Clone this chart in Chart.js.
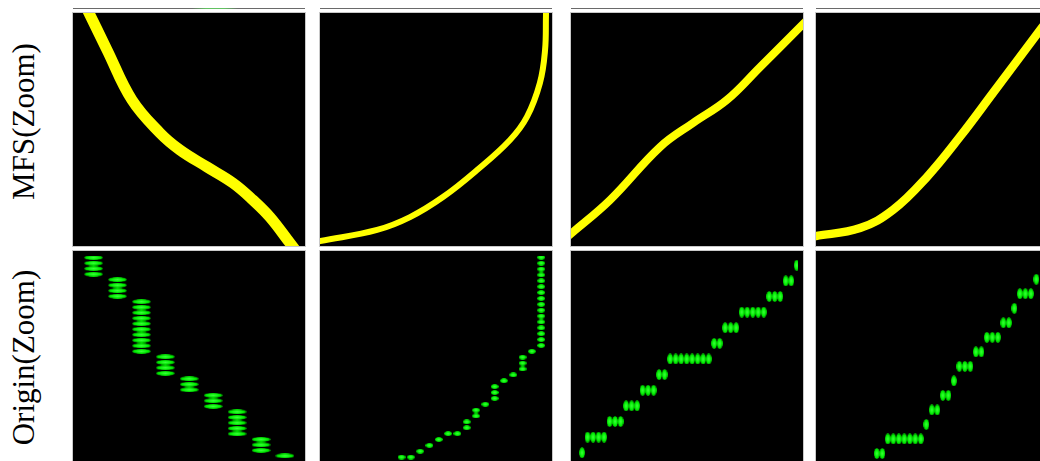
<!DOCTYPE html>
<html>
<head>
<meta charset="utf-8">
<script src="https://cdn.jsdelivr.net/npm/chart.js@4.4.0/dist/chart.umd.min.js"></script>
<style>
  html, body { margin: 0; padding: 0; background: #fff; }
  #wrap { position: relative; width: 1040px; height: 461px; overflow: hidden; }
  .panel { position: absolute; width: 232px; height: 233px; border: 1px solid #c8c8c8; background: #000; }
  .panel canvas { display: block; }
  .topline { position: absolute; top: 8px; width: 232px; height: 1px; background: #6a6a6a; }
  .rowlabel {
    position: absolute; width: 240px; height: 31px; line-height: 31px;
    font-family: "Liberation Serif", "Times New Roman", serif; font-size: 31px;
    text-align: center; white-space: nowrap; color: #000;
    transform: rotate(-90deg);
  }
</style>
</head>
<body>
<div id="wrap">
  <div class="rowlabel" style="left:-97.5px; top:105.5px;">MFS(Zoom)</div>
  <div class="rowlabel" style="left:-97.5px; top:342px;">Origin(Zoom)</div>
</div>
<script>
// =======================
// Data
// =======================

// MFS (top row) - smooth curves, in % of the panel (x right, y up)
const mfs1X = [4.9, 6.9, 14.7, 25.4, 37.5, 46.1, 57.8, 69.0, 77.6, 84.9, 93.5, 97.6];
const mfs1Y = [104, 100, 84.1, 62.7, 48.5, 41.2, 33.9, 27.0, 19.7, 12.4, 1.3, -4];

const mfs2X = [-2, 0, 24.6, 38.8, 53.0, 67.7, 81.9, 89.2, 94.8, 97.0, 97.4, 97.5];
const mfs2Y = [1.6, 2.1, 6.9, 12.4, 21.0, 32.6, 45.5, 55.4, 70.0, 84.0, 99.0, 104];

const mfs3X = [-2, 0, 16.8, 38.4, 52.6, 67.2, 81.5, 99.6, 102];
const mfs3Y = [3.6, 5.3, 19.7, 42.5, 52.8, 62.7, 76.8, 94.8, 97.2];

const mfs4X = [-2, 0, 19.0, 33.2, 47.8, 62.0, 76.3, 96.6, 103];
const mfs4Y = [4.2, 4.3, 7.7, 15.5, 29.6, 46.8, 65.7, 92.7, 101];

// Origin (bottom row) - quantised points, in grid steps (column, row counted from the top)
const org1Col = [0,0,0,0, 1,1,1,1, 2,2,2,2,2,2,2,2,2,2, 3,3,3,3, 4,4,4, 5,5,5, 6,6,6,6,6, 7,7,7, 8];
const org1Row = [0,1,2,3,4,5,6,7,8,9,10,11,12,13,14,15,16,17,18,19,20,21,22,23,24,25,26,27,28,29,30,31,32,33,34,35,36];

const org2Col = [15,15,15,15,15,15,15,15,15,15,15,15,15,15,15,15, 14, 13,13,13, 12, 11, 10,10,10, 9, 8,8, 7,7, 6, 5, 4, 3, 2, 1, 0];
const org2Row = [0,1,2,3,4,5,6,7,8,9,10,11,12,13,14,15, 16, 17,18,19, 20, 21, 22,23,24, 25, 26,27, 28,29, 30, 30, 31, 32, 33, 34, 34];

const org3Col = [0,1,2,3,4,5,6,7,8,9,10,11,12,13,14,15,16,17,18,19,20,21,22,23,24,25,26,27,28,29,30,31,32,33,34,35,36,37,38,39];
const org3Row = [12, 11,11,11,11, 10,10,10, 9,9,9, 8,8,8, 7,7, 6,6,6,6,6,6,6,6, 5,5, 4,4,4, 3,3,3,3,3, 2,2,2, 1,1, 0];

const org4Col = [0,1,2,3,4,5,6,7,8,9,10,11,12,13,14,15,16,17,18,19,20,21,22,23,24,25,26,27,28,29];
const org4Row = [12,12, 11,11,11,11,11,11,11, 10, 9,9, 8,8, 7, 6,6,6, 5,5, 4,4,4, 3,3, 2, 1,1,1, 0];

// =======================
// Layout
// =======================
const COL_LEFT = [73, 320, 571, 816];
const ROW_TOP = [13, 251];
const PW = 232, PH = 233;

const pts = (xs, ys) => xs.map((x, i) => ({ x: x, y: ys[i] }));

// soft green ellipse used as point style
function makeDot(w, h) {
    const c = document.createElement("canvas");
    c.width = w; c.height = h;
    const g = c.getContext("2d");
    g.translate(w / 2, h / 2);
    g.scale(w / 2, h / 2);
    const grad = g.createRadialGradient(0, 0, 0, 0, 0, 1);
    grad.addColorStop(0, "#40ff40");
    grad.addColorStop(0.7, "#00f000");
    grad.addColorStop(0.9, "#00c800");
    grad.addColorStop(1, "rgba(0,140,0,0.7)");
    g.fillStyle = grad;
    g.beginPath();
    g.arc(0, 0, 1, 0, Math.PI * 2);
    g.fill();
    return c;
}

const panels = [
    { col: 0, row: 0, line: pts(mfs1X, mfs1Y), width: 11 },
    { col: 1, row: 0, line: pts(mfs2X, mfs2Y), width: 6 },
    { col: 2, row: 0, line: pts(mfs3X, mfs3Y), width: 8 },
    { col: 3, row: 0, line: pts(mfs4X, mfs4Y), width: 8.5 },
    { col: 0, row: 1, dots: pts(org1Col, org1Row), dot: [19, 5], xr: [-0.65, 8.63], yr: [-0.3, 40.2] },
    { col: 1, row: 1, dots: pts(org2Col, org2Row), dot: [8, 5], xr: [-8.22, 15.62], yr: [-0.22, 37.73] },
    { col: 2, row: 1, dots: pts(org3Col, org3Row), dot: [6, 11], xr: [-1.10, 39.23], yr: [-0.59, 13.68] },
    { col: 3, row: 1, dots: pts(org4Col, org4Row), dot: [6, 11], xr: [-10.14, 30.21], yr: [-1.60, 13.76] }
];

const wrap = document.getElementById("wrap");

// thin rule above the top row
COL_LEFT.forEach(x => {
    const l = document.createElement("div");
    l.className = "topline";
    l.style.left = x + "px";
    wrap.appendChild(l);
});
const tint = document.createElement("div");
tint.className = "topline";
tint.style.left = "192px";
tint.style.width = "46px";
tint.style.background = "linear-gradient(to right, #6a6a6a, #62c262 30%, #62c262 70%, #6a6a6a)";
wrap.appendChild(tint);

panels.forEach(p => {
    const box = document.createElement("div");
    box.className = "panel";
    box.style.left = (COL_LEFT[p.col] - 1) + "px";
    box.style.top = (ROW_TOP[p.row] - 1) + "px";
    const cv = document.createElement("canvas");
    cv.width = PW; cv.height = PH;
    box.appendChild(cv);
    wrap.appendChild(box);

    let ds, xs, ys;
    if (p.line) {
        ds = {
            data: p.line,
            showLine: true,
            borderColor: "#ffff00",
            borderWidth: p.width,
            borderCapStyle: "butt",
            borderJoinStyle: "round",
            pointRadius: 0,
            tension: 0.4,
            clip: 0
        };
        xs = { type: "linear", display: false, min: 0, max: 100 };
        ys = { type: "linear", display: false, min: 0, max: 100 };
    } else {
        ds = {
            data: p.dots,
            showLine: false,
            pointStyle: makeDot(p.dot[0], p.dot[1]),
            pointRadius: 2,
            clip: 0
        };
        xs = { type: "linear", display: false, min: p.xr[0], max: p.xr[1] };
        ys = { type: "linear", display: false, min: p.yr[0], max: p.yr[1], reverse: true };
    }

    new Chart(cv, {
        type: "scatter",
        data: { datasets: [ds] },
        options: {
            responsive: false,
            animation: false,
            events: [],
            layout: { padding: 0 },
            plugins: { legend: { display: false }, tooltip: { enabled: false } },
            scales: { x: xs, y: ys }
        }
    });
});
</script>
</body>
</html>
